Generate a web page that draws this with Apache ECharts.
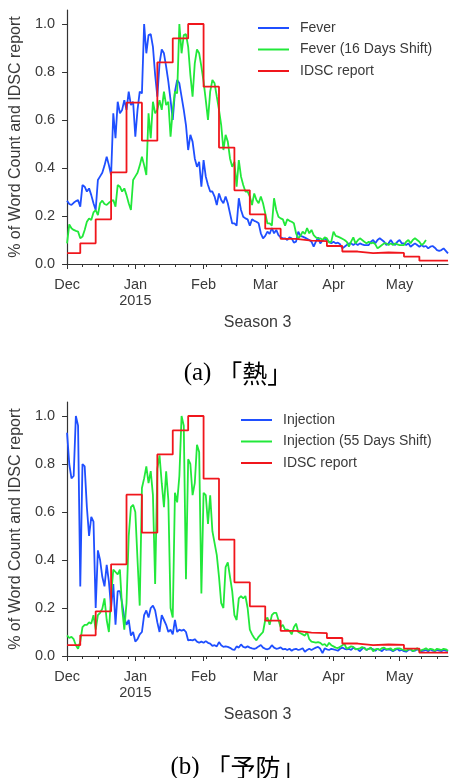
<!DOCTYPE html>
<html><head><meta charset="utf-8">
<script src="https://cdn.jsdelivr.net/npm/echarts@6.0.0/dist/echarts.min.js"></script>
<style>html,body{margin:0;padding:0;background:#fff}#c{width:449px;height:778px}</style>
</head><body><div id="c"></div>
<script>
const seriesStart = '2014-12-01';
const axisStart = '2014-12-01';
const axisEnd = '2015-05-23';
const monthTicks = ['2014-12-01','2015-01-01','2015-02-01','2015-03-01','2015-04-01','2015-05-01'];
const monthLabels = ['Dec','Jan\n2015','Feb','Mar','Apr','May'];
const weekTicks = ['2014-12-08','2014-12-15','2014-12-22','2014-12-29','2015-01-05','2015-01-12','2015-01-19','2015-01-26','2015-02-02','2015-02-09','2015-02-16','2015-02-23','2015-03-02','2015-03-09','2015-03-16','2015-03-23','2015-03-30','2015-04-06','2015-04-13','2015-04-20','2015-04-27','2015-05-04','2015-05-11','2015-05-18'];
const yTicks = [0, 0.2, 0.4, 0.6, 0.8, 1.0];

const idscWeeks = ['2014-12-01','2014-12-07','2014-12-14','2014-12-21','2014-12-28','2015-01-04','2015-01-11','2015-01-18','2015-01-25','2015-02-01','2015-02-08','2015-02-15','2015-02-22','2015-03-01','2015-03-08','2015-03-15','2015-03-22','2015-03-29','2015-04-05','2015-04-12','2015-04-19','2015-04-26','2015-05-03','2015-05-10','2015-05-17'];
const idscReport = [0.045,0.086,0.186,0.382,0.672,0.514,0.840,0.940,1.0,0.739,0.485,0.307,0.207,0.147,0.105,0.097,0.095,0.075,0.052,0.045,0.048,0.046,0.031,0.014,0.014];

const fever = [0.264,0.25,0.246,0.255,0.262,0.266,0.239,0.329,0.322,0.302,
0.315,0.287,0.253,0.225,0.350,0.365,0.38,0.41,0.447,0.412,
0.371,0.628,0.524,0.676,0.628,0.642,0.683,0.642,0.718,0.662,
0.676,0.530,0.642,0.718,0.711,1.0,0.878,0.954,0.958,0.905,
0.788,0.697,0.836,0.894,0.878,0.822,0.760,0.683,0.600,0.718,
0.767,0.753,0.697,0.642,0.579,0.475,0.538,0.510,0.440,0.405,
0.426,0.322,0.433,0.364,0.329,0.302,0.302,0.281,0.246,0.294,
0.267,0.253,0.281,0.253,0.211,0.169,0.169,0.16,0.274,0.225,
0.197,0.190,0.186,0.16,0.186,0.18,0.176,0.17,0.128,0.107,
0.117,0.135,0.125,0.15,0.128,0.142,0.12,0.111,0.107,0.107,
0.10,0.111,0.107,0.089,0.093,0.135,0.117,0.114,0.11,0.105,
0.10,0.093,0.072,0.093,0.111,0.086,0.098,0.107,0.10,0.093,
0.086,0.093,0.086,0.089,0.082,0.065,0.072,0.079,0.086,0.086,
0.079,0.086,0.079,0.086,0.082,0.079,0.079,0.079,0.093,0.10,
0.086,0.10,0.107,0.10,0.093,0.079,0.086,0.10,0.086,0.079,
0.093,0.10,0.086,0.086,0.079,0.086,0.072,0.079,0.086,0.079,
0.072,0.079,0.072,0.075,0.065,0.072,0.075,0.068,0.058,0.055,
0.058,0.065,0.055,0.044];

const feverShift16 = [0.086,0.165,0.149,0.142,0.138,0.135,0.107,0.114,0.142,0.176,
0.19,0.183,0.215,0.225,0.204,0.253,
0.264,0.25,0.246,0.255,0.262,0.266,0.239,0.329,0.322,0.302,
0.315,0.287,0.253,0.225,0.350,0.365,0.38,0.41,0.447,0.412,
0.371,0.628,0.524,0.676,0.628,0.642,0.683,0.642,0.718,0.662,
0.676,0.530,0.642,0.718,0.711,1.0,0.878,0.954,0.958,0.905,
0.788,0.697,0.836,0.894,0.878,0.822,0.760,0.683,0.600,0.718,
0.767,0.753,0.697,0.642,0.579,0.475,0.538,0.510,0.440,0.405,
0.426,0.322,0.433,0.364,0.329,0.302,0.302,0.281,0.246,0.294,
0.267,0.253,0.281,0.253,0.211,0.169,0.169,0.16,0.274,0.225,
0.197,0.190,0.186,0.16,0.186,0.18,0.176,0.17,0.128,0.107,
0.117,0.135,0.125,0.15,0.128,0.142,0.12,0.111,0.107,0.107,
0.10,0.111,0.107,0.089,0.093,0.135,0.117,0.114,0.11,0.105,
0.10,0.093,0.072,0.093,0.111,0.086,0.098,0.107,0.10,0.093,
0.086,0.093,0.086,0.089,0.082,0.065,0.072,0.079,0.086,0.086,
0.079,0.086,0.079,0.086,0.082,0.079,0.079,0.079,0.093,0.10,
0.086,0.10,0.107,0.10,0.093,0.079,0.086,0.10];

const injection = [0.93,0.80,0.74,0.75,1.0,0.96,0.29,0.80,0.79,0.62,
0.50,0.58,0.56,0.20,0.44,0.40,0.33,0.29,0.38,0.31,
0.20,0.30,0.13,0.27,0.27,0.22,0.16,0.13,0.15,0.085,
0.10,0.06,0.07,0.09,0.10,0.17,0.19,0.16,0.20,0.21,
0.19,0.14,0.10,0.17,0.15,0.13,0.10,0.11,0.09,0.15,
0.10,0.11,0.105,0.11,0.10,0.065,0.067,0.065,0.07,0.06,
0.055,0.06,0.055,0.062,0.055,0.052,0.042,0.045,0.04,0.058,
0.045,0.038,0.04,0.038,0.034,0.028,0.025,0.04,0.035,0.048,
0.038,0.035,0.04,0.035,0.032,0.03,0.033,0.04,0.046,0.035,
0.03,0.028,0.032,0.045,0.035,0.03,0.032,0.036,0.028,0.03,
0.025,0.03,0.022,0.028,0.03,0.025,0.028,0.032,0.018,0.025,
0.03,0.025,0.03,0.035,0.038,0.03,0.012,0.032,0.028,0.025,
0.03,0.028,0.025,0.022,0.03,0.035,0.03,0.028,0.03,0.025,
0.035,0.03,0.028,0.02,0.03,0.035,0.025,0.03,0.032,0.028,
0.022,0.03,0.025,0.02,0.03,0.025,0.028,0.025,0.02,0.025,
0.03,0.022,0.025,0.02,0.018,0.025,0.028,0.02,0.022,0.028,
0.025,0.02,0.022,0.025,0.02,0.028,0.022,0.02,0.025,0.022,
0.02,0.025,0.022,0.02];

const injectionShift55 = [0.086,0.075,0.08,0.07,0.045,0.03,0.06,0.12,0.13,0.13,
0.14,0.135,0.17,0.11,0.17,0.18,0.197,0.24,0.15,0.10,
0.25,0.36,0.35,0.34,0.36,0.20,0.11,0.22,0.50,0.62,
0.63,0.60,0.40,0.21,0.70,0.74,0.79,0.72,0.77,0.67,
0.30,0.78,0.836,0.72,0.62,0.77,0.65,0.20,0.16,0.68,
0.64,0.75,1.0,0.96,0.32,0.82,0.80,0.67,0.72,0.88,
0.85,0.26,0.68,0.67,0.55,0.67,0.52,0.47,0.42,0.33,
0.22,0.20,0.37,0.39,0.33,0.27,0.17,0.15,0.24,0.25,
0.24,0.25,0.20,0.11,0.09,0.075,0.065,0.08,0.09,0.10,
0.15,0.16,0.13,0.17,0.18,0.18,0.15,0.12,0.13,0.11,
0.11,0.105,0.09,0.12,0.135,0.10,0.095,0.09,0.085,0.10,
0.07,0.06,0.058,0.056,0.058,0.055,0.046,0.05,0.04,0.055,
0.045,0.04,0.035,0.033,0.038,0.045,0.05,0.03,0.035,0.04,
0.038,0.028,0.03,0.032,0.038,0.032,0.025,0.03,0.035,0.02,
0.028,0.03,0.025,0.033,0.035,0.028,0.03,0.032,0.022,0.03,
0.032,0.032,0.028,0.025,0.022,0.028,0.03,0.02,0.025,0.033,
0.02,0.025,0.028,0.032,0.025,0.03,0.028,0.022,0.03,0.028,
0.025,0.03,0.028,0.022];

const seriesNames = [['Fever','Fever (16 Days Shift)','IDSC report'],['Injection','Injection (55 Days Shift)','IDSC report']];
const captions = [['(a)','「熱」'],['(b)','「予防」']];
const yName = '% of Word Count and IDSC report';
const xName = 'Season 3';

function ts(s){const p=s.split('-').map(Number);return new Date(p[0],p[1]-1,p[2]).getTime();}
function daily(arr){const p=seriesStart.split('-').map(Number);return arr.map((v,i)=>[new Date(p[0],p[1]-1,p[2]+i).getTime(),v]);}
function weekly(){const d=idscWeeks.map((s,i)=>[ts(s),idscReport[i]]);d.push([ts(axisEnd),idscReport[idscReport.length-1]]);return d;}

const monthTs = monthTicks.map(ts), weekTs = weekTicks.map(ts);
const TXT = '#3a3a3a', AX = '#333', FONT = 'Liberation Sans, Arial, sans-serif';
const colors = ['#1f4fff','#22e83a','#f0161c'];
const grids = [{left:67,width:381,top:10,height:254},{left:67,width:381,top:402,height:254}];
const yMax = 254/240;

const xAxes=[], yAxes=[], series=[], legends=[], graphics=[];
const seriesData = [[fever, feverShift16],[injection, injectionShift55]];
const legendPos = [{left:257,top:21},{left:240,top:413}];
const capY = [373, 767];
for (let g=0; g<2; g++){
  xAxes.push({type:'value',gridIndex:g,min:ts(axisStart),max:ts(axisEnd),position:'bottom',
    axisLine:{show:true,onZero:false,lineStyle:{color:AX,width:1.2}},
    axisTick:{show:true,customValues:monthTs,length:5,lineStyle:{color:AX,width:1}},
    axisLabel:{customValues:monthTs,color:TXT,fontSize:14.5,fontFamily:FONT,margin:13,lineHeight:16,
      formatter:v=>{const i=monthTs.indexOf(v);return i>=0?monthLabels[i]:'';}},
    splitLine:{show:false},
    name:xName,nameLocation:'middle',nameGap:51,nameTextStyle:{color:TXT,fontSize:16,fontFamily:FONT}});
  xAxes.push({type:'value',gridIndex:g,min:ts(axisStart),max:ts(axisEnd),position:'bottom',
    axisLine:{show:false,onZero:false},axisTick:{show:true,customValues:weekTs,length:3,lineStyle:{color:AX,width:1}},
    axisLabel:{show:false},splitLine:{show:false}});
  yAxes.push({type:'value',gridIndex:g,min:0,max:yMax,
    axisLine:{show:true,onZero:false,lineStyle:{color:AX,width:1.2}},
    axisTick:{show:true,customValues:yTicks,length:5,lineStyle:{color:AX}},
    axisLabel:{customValues:yTicks,color:TXT,fontSize:14.5,fontFamily:FONT,margin:12,formatter:v=>v.toFixed(1)},
    splitLine:{show:false},
    name:yName,nameLocation:'middle',nameGap:40,nameTextStyle:{color:TXT,fontSize:16,fontFamily:FONT}});
  const names = seriesNames[g];
  const datas = [daily(seriesData[g][0]), daily(seriesData[g][1]), weekly()];
  for (let k=0;k<3;k++){
    series.push({type:'line',name:names[k],xAxisIndex:g*2,yAxisIndex:g,data:datas[k],symbol:'none',
      step:k===2?'end':false,lineStyle:{width:1.8,color:colors[k]},itemStyle:{color:colors[k]},z:2+k,silent:true});
  }
  legends.push({orient:'vertical',left:legendPos[g].left,top:legendPos[g].top,data:names.slice(),
    itemWidth:31,itemHeight:14,itemGap:7.5,padding:0,selectedMode:false,
    itemStyle:{color:'rgba(0,0,0,0)',borderWidth:0,opacity:0},
    lineStyle:{width:2},
    textStyle:{color:TXT,fontSize:14,fontFamily:FONT,padding:[0,0,0,6]}});
  graphics.push({type:'text',x:238,y:capY[g],style:{
    text:'{p|'+captions[g][0]+'}{s|}{c|'+captions[g][1]+'}',
    rich:{p:{fontFamily:'Liberation Serif, DejaVu Serif, serif',fontSize:25,fill:'#000'},
          s:{width:6},
          c:{fontFamily:'Noto Sans CJK JP',fontSize:25,fill:'#000'}},
    align:'center',verticalAlign:'middle'}});
}

const chart = echarts.init(document.getElementById('c'));
chart.setOption({animation:false,backgroundColor:'#fff',grid:grids,xAxis:xAxes,yAxis:yAxes,series:series,legend:legends,graphic:graphics});
</script></body></html>
